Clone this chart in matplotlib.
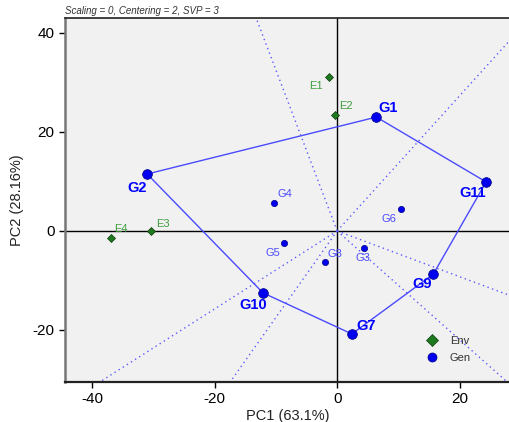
import matplotlib
matplotlib.use("Agg")
import matplotlib.pyplot as plt
import numpy as np
from matplotlib.lines import Line2D

plt.rcParams['font.family'] = ['Liberation Sans', 'DejaVu Sans']
plt.rcParams['axes.unicode_minus'] = False

# ---- data ----
gen_names = ["G1", "G2", "G3", "G4", "G5", "G6", "G7", "G8", "G9", "G10", "G11"]
gen_x = [6.4, -31.0, 4.4, -10.3, -8.6, 10.4, 2.4, -2.0, 15.7, -12.1, 24.3]
gen_y = [23.0, 11.5, -3.4, 5.7, -2.4, 4.4, -20.8, -6.3, -8.7, -12.5, 9.9]
env_names = ["E1", "E2", "E3", "E4"]
env_x = [-1.3, -0.3, -30.3, -36.9]
env_y = [31.1, 23.4, 0.0, -1.4]
hull = ["G1", "G11", "G9", "G7", "G10", "G2"]
xticks = [-40, -20, 0, 20]
yticks = [-20, 0, 20, 40]

# label offsets (pixels)
gen_off = {"G1": (12, 9), "G2": (-10, -14), "G3": (-1, -10), "G4": (11, 9),
           "G5": (-12, -10), "G6": (-12, -10), "G7": (14, 8), "G8": (10, 8),
           "G9": (-11, -10), "G10": (-10, -12), "G11": (-13, -11)}
env_off = {"E1": (-13, -9), "E2": (11, 9), "E3": (11, 7), "E4": (10, 9)}

fig = plt.figure(figsize=(5.10, 4.22), dpi=100)
ax = fig.add_axes([0.1275, 0.0948, 0.8725, 0.8625])
ax.set_facecolor("#f1f1f1")
ax.set_xlim(-44.4, 28.2)
ax.set_ylim(-30.5, 43.0)

ax.axhline(0, color="black", lw=1, zorder=1)
ax.axvline(0, color="black", lw=1, zorder=1)

# hull
idx = [gen_names.index(n) for n in hull]
hx = [gen_x[i] for i in idx] + [gen_x[idx[0]]]
hy = [gen_y[i] for i in idx] + [gen_y[idx[0]]]
ax.plot(hx, hy, color="#4a4aff", lw=1, zorder=2)

# perpendicular rays from origin to hull sides
for k in range(len(hull)):
    x1, y1 = hx[k], hy[k]
    x2, y2 = hx[k + 1], hy[k + 1]
    dx, dy = x2 - x1, y2 - y1
    t = -(x1 * dx + y1 * dy) / (dx * dx + dy * dy)
    fx, fy = x1 + t * dx, y1 + t * dy
    n = np.hypot(fx, fy)
    ax.plot([0, fx / n * 200], [0, fy / n * 200], color="#5a5aff",
            lw=1, ls=(0, (1, 2.5)), zorder=1.5)

vertex = set(hull)
for i, n in enumerate(gen_names):
    big = n in vertex
    ax.plot(gen_x[i], gen_y[i], marker="o", ms=7 if big else 4.5,
            color="#0000ee", mec="#000080", mew=0.5, ls="none", zorder=4)
    ax.annotate(n, (gen_x[i], gen_y[i]), xytext=gen_off[n], textcoords="offset pixels",
                ha="center", va="center",
                fontsize=10.5 if big else 8,
                fontweight="bold" if big else "normal",
                color="#0000ff" if big else "#4b4bff", zorder=5)

for i, n in enumerate(env_names):
    ax.plot(env_x[i], env_y[i], marker="D", ms=4.5, color="#1f7a1f",
            mec="#0a3a0a", mew=0.5, ls="none", zorder=4)
    ax.annotate(n, (env_x[i], env_y[i]), xytext=env_off[n], textcoords="offset pixels",
                ha="center", va="center", fontsize=8, color="#3f9f3f", zorder=5)

ax.set_xticks(xticks)
ax.set_yticks(yticks)
ax.tick_params(labelsize=11, length=4, width=1, colors="black")
ax.set_xlabel("PC1 (63.1%)", fontsize=10.5, color="#222222", labelpad=2)
ax.set_ylabel("PC2 (28.16%)", fontsize=10.5, color="#222222", labelpad=6)

ax.spines["right"].set_visible(False)
ax.spines["left"].set_color("#777777")
ax.spines["left"].set_linewidth(1.8)
ax.spines["bottom"].set_color("#222222")
ax.spines["bottom"].set_linewidth(1.6)
ax.spines["top"].set_color("#222222")
ax.spines["top"].set_linewidth(1.2)

ax.text(0.0, 1.006, "Scaling = 0, Centering = 2, SVP = 3", transform=ax.transAxes,
        fontsize=7, style="italic", color="#333333", ha="left", va="bottom")

handles = [Line2D([], [], marker="D", ms=6, color="#1f7a1f", mec="#0a3a0a", mew=0.5, ls="none"),
           Line2D([], [], marker="o", ms=6.5, color="#0000ee", mec="#000080", mew=0.5, ls="none")]
ax.legend(handles, ["Env", "Gen"], loc="lower right", bbox_to_anchor=(0.935, 0.026),
          frameon=False, fontsize=8, handletextpad=0.6, labelspacing=0.6,
          labelcolor="#333333")

fig.savefig("out.png", dpi=100)
